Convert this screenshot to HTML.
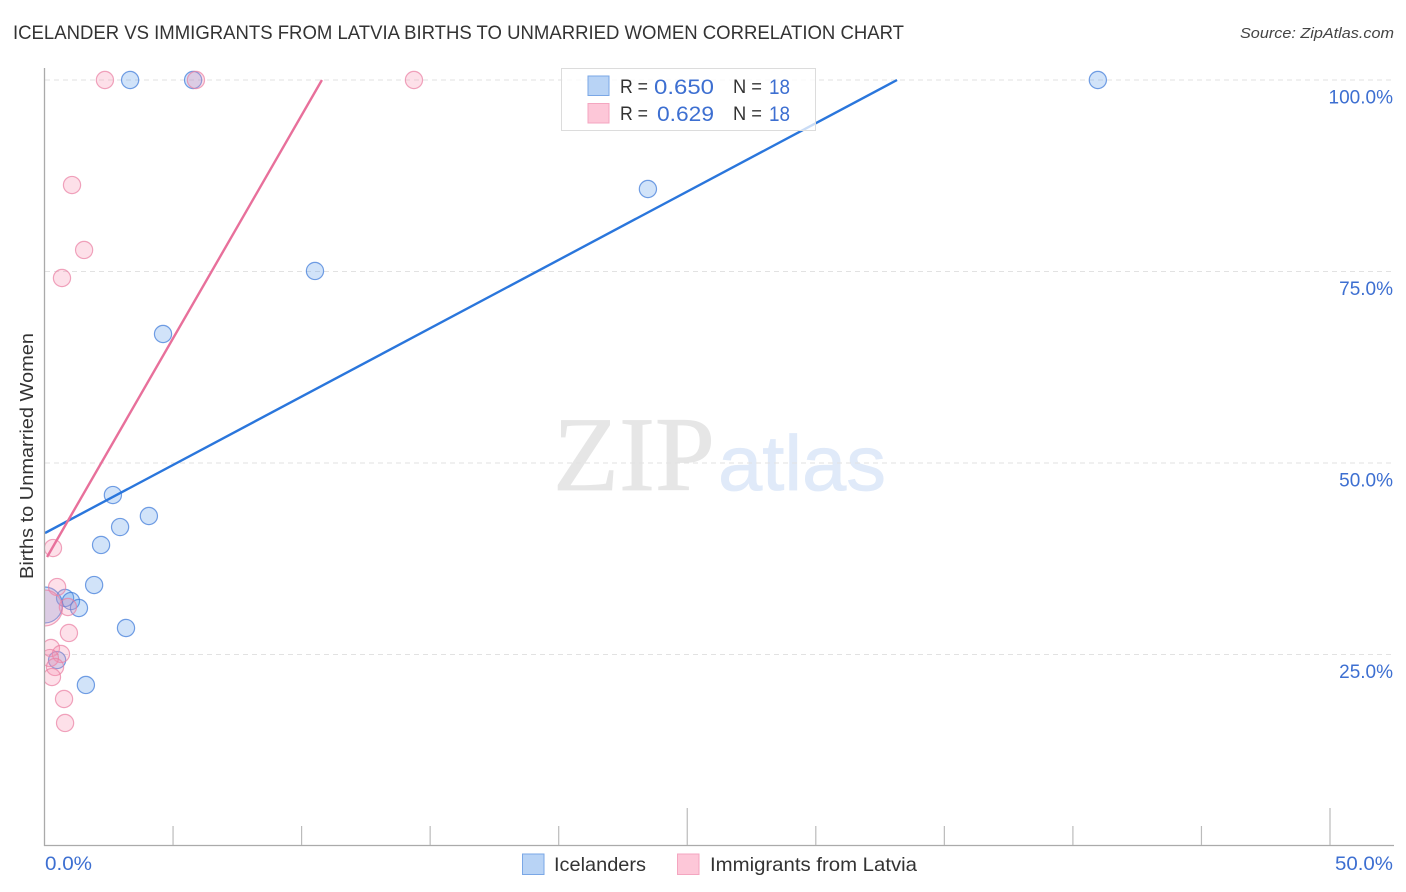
<!DOCTYPE html>
<html lang="en">
<head>
<meta charset="utf-8">
<title>Icelander vs Immigrants from Latvia Births to Unmarried Women Correlation Chart</title>
<style>
html,body{margin:0;padding:0;background:#fff;width:1406px;height:892px;overflow:hidden}
svg{display:block;font-family:"Liberation Sans",sans-serif}
</style>
</head>
<body>
<svg id="chart" width="1406" height="892" viewBox="0 0 1406 892" xmlns="http://www.w3.org/2000/svg">
  <defs><clipPath id="plot-clip"><rect x="45" y="60" width="1349" height="786"/></clipPath></defs>
  <text x="13" y="39" font-size="19" fill="#333" textLength="891" lengthAdjust="spacingAndGlyphs">ICELANDER VS IMMIGRANTS FROM LATVIA BIRTHS TO UNMARRIED WOMEN CORRELATION CHART</text>
  <text x="1394" y="38" font-size="15" font-style="italic" fill="#444" text-anchor="end" textLength="154" lengthAdjust="spacingAndGlyphs">Source: ZipAtlas.com</text>
  <g>
    <text x="553" y="490" font-family="'Liberation Serif',serif" font-size="106" fill="#e6e6e6" stroke="#e6e6e6" stroke-width="0.8" textLength="162" lengthAdjust="spacingAndGlyphs">ZIP</text>
    <text x="718" y="490" font-size="78" fill="#e0eaf9" stroke="#e0eaf9" stroke-width="0.8" textLength="168" lengthAdjust="spacingAndGlyphs">atlas</text>
  </g>
  <g id="grid"></g>
  <g id="y-labels"></g>
  <g id="marks" clip-path="url(#plot-clip)"></g>
  <g id="axes"></g>
  <text transform="translate(33,456) rotate(-90)" font-size="18.5" fill="#333" text-anchor="middle" textLength="246" lengthAdjust="spacingAndGlyphs">Births to Unmarried Women</text>
  <text x="45" y="870" font-size="19" fill="#3d6fd1" textLength="47" lengthAdjust="spacingAndGlyphs">0.0%</text>
  <text x="1393" y="870" font-size="19" fill="#3d6fd1" text-anchor="end" textLength="58" lengthAdjust="spacingAndGlyphs">50.0%</text>

  <g>
    <rect x="561.5" y="68.5" width="254" height="62" fill="#fff" fill-opacity="0.75" stroke="#dcdcdc" stroke-width="1"/>
    <rect x="588" y="76" width="21" height="19.5" fill="#b8d3f5" stroke="#7aa7e6" stroke-width="1"/>
    <rect x="588" y="103.5" width="21" height="19.5" fill="#fdc7d8" stroke="#f4a6c0" stroke-width="1"/>
    <text x="620" y="93" font-size="19" fill="#333" textLength="28" lengthAdjust="spacingAndGlyphs">R =</text>
    <text x="654" y="94" font-size="21.5" fill="#3d6fd1" textLength="60" lengthAdjust="spacingAndGlyphs">0.650</text>
    <text x="733" y="93" font-size="19" fill="#333" textLength="29" lengthAdjust="spacingAndGlyphs">N =</text>
    <text x="769" y="94" font-size="21.5" fill="#3d6fd1" textLength="21" lengthAdjust="spacingAndGlyphs">18</text>
    <text x="620" y="120" font-size="19" fill="#333" textLength="28" lengthAdjust="spacingAndGlyphs">R =</text>
    <text x="657" y="121" font-size="21.5" fill="#3d6fd1" textLength="57" lengthAdjust="spacingAndGlyphs">0.629</text>
    <text x="733" y="120" font-size="19" fill="#333" textLength="29" lengthAdjust="spacingAndGlyphs">N =</text>
    <text x="769" y="121" font-size="21.5" fill="#3d6fd1" textLength="21" lengthAdjust="spacingAndGlyphs">18</text>
  </g>

  <g>
    <rect x="522.5" y="854" width="21.5" height="20.5" fill="#b8d3f5" stroke="#7aa7e6" stroke-width="1"/>
    <text x="554" y="871" font-size="19.5" fill="#333" textLength="92" lengthAdjust="spacingAndGlyphs">Icelanders</text>
    <rect x="677.5" y="854" width="21.5" height="20.5" fill="#fdc7d8" stroke="#f4a6c0" stroke-width="1"/>
    <text x="710" y="871" font-size="19.5" fill="#333" textLength="207" lengthAdjust="spacingAndGlyphs">Immigrants from Latvia</text>
  </g>
</svg>
<script>
const yTicks = [100, 75, 50, 25];
const yTickLabels = ['100.0%', '75.0%', '50.0%', '25.0%'];
const xTicks = [5, 10, 15, 20, 25, 30, 35, 40, 45, 50];
const xMajorTicks = [25, 50];

const icelanderX = [3.33, 5.78, 40.97, 23.47, 10.52, 4.61, 2.66, 4.06, 2.94, 2.20, 1.93, 0.80, 1.03, 1.34, 3.17, 0.49, 1.61, 0.0];
const icelanderY = [100, 100, 100, 85.77, 75.07, 66.84, 45.82, 43.08, 41.64, 39.30, 34.07, 32.38, 31.98, 31.07, 28.46, 24.28, 21.02, 31.46];
const icelanderSize = [1, 1, 1, 1, 1, 1, 1, 1, 1, 1, 1, 1, 1, 1, 1, 1, 1, 2];

const latviaX = [2.35, 5.89, 14.37, 1.07, 1.54, 0.68, 0.33, 0.49, 0.91, 0.95, 0.25, 0.64, 0.21, 0.41, 0.29, 0.76, 0.80, 0.0];
const latviaY = [100, 100, 100, 86.29, 77.81, 74.15, 38.90, 33.81, 31.20, 27.81, 25.85, 25.07, 24.54, 23.37, 22.06, 19.19, 16.06, 31.07];
const latviaSize = [1, 1, 1, 1, 1, 1, 1, 1, 1, 1, 1, 1, 1, 1, 1, 1, 1, 2];

const icelanderTrendX = [0.02, 33.16];
const icelanderTrendY = [40.86, 100];
const latviaTrendX = [0.1, 10.79];
const latviaTrendY = [37.73, 100];

const NS = 'http://www.w3.org/2000/svg';
function xScale(v) { return 44.5 + v * 25.71; }
function yScale(v) { return 80 + (100 - v) * 7.66; }
function make(tag, attrs, parent) {
  const el = document.createElementNS(NS, tag);
  for (const k in attrs) el.setAttribute(k, attrs[k]);
  parent.appendChild(el);
  return el;
}

const grid = document.getElementById('grid');
const yLabels = document.getElementById('y-labels');
yTicks.forEach(function (t, i) {
  const line = make('line', { x1: 45, x2: 1393, y1: yScale(t), y2: yScale(t), stroke: '#e2e2e2', 'stroke-width': 1, 'stroke-dasharray': '5 4' }, grid);
  
  
  const label = make('text', { x: 1393, y: yScale(t) + 23.5, 'font-size': 19, fill: '#3d6fd1', 'text-anchor': 'end' }, yLabels);
  
  
  label.textContent = yTickLabels[i];
});

const axes = document.getElementById('axes');
const yAxisLine = make('line', { x1: 44.5, x2: 44.5, y1: 68, y2: 846, stroke: '#aaa', 'stroke-width': 1.3 }, axes);


const xAxisLine = make('line', { x1: 44, x2: 1394, y1: 845.5, y2: 845.5, stroke: '#aaa', 'stroke-width': 1.3 }, axes);


xTicks.forEach(function (t) {
  const top = xMajorTicks.indexOf(t) >= 0 ? 808 : 826;
  const tick = make('line', { x1: xScale(t), x2: xScale(t), y1: top, y2: 845, stroke: '#bbb', 'stroke-width': 1.2 }, axes);
  
  
});

const marks = document.getElementById('marks');
function drawPoints(xs, ys, sizes, fill, stroke, name) {
  xs.forEach(function (x, i) {
    const c = make('circle', { cx: xScale(x), cy: yScale(ys[i]), r: sizes[i] === 2 ? 18 : 8.6, fill: fill, 'fill-opacity': 0.28, stroke: stroke, 'stroke-opacity': 0.7, 'stroke-width': 1.2 }, marks);
    
    
  });
}
function drawTrend(xs, ys, color, name) {
  const l = make('line', { x1: xScale(xs[0]), y1: yScale(ys[0]), x2: xScale(xs[1]), y2: yScale(ys[1]), stroke: color, 'stroke-width': 2.4 }, marks);
  
  
}
drawPoints(icelanderX, icelanderY, icelanderSize, '#5a9be8', '#3b78d8', 'icelander-point');
drawPoints(latviaX, latviaY, latviaSize, '#f78fb0', '#ea7fa3', 'latvia-point');
drawTrend(icelanderTrendX, icelanderTrendY, '#2a76dc', 'icelander-trend-line');
drawTrend(latviaTrendX, latviaTrendY, '#e8709b', 'latvia-trend-line');
</script>
</body>
</html>
